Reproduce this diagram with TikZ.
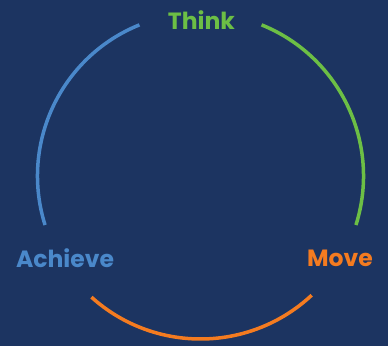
\documentclass[tikz,border=0pt]{standalone}
\usepackage{fontspec}
\setmainfont{Poppins}
\usetikzlibrary{positioning,calc}
\definecolor{navy}{HTML}{1C3461}
\definecolor{thinkgreen}{HTML}{6CBF45}
\definecolor{achieveblue}{HTML}{4A88CA}
\definecolor{moveorange}{HTML}{F47B20}
\tikzset{
  ring/.style = {line width=3.5pt, line cap=butt},
  word/.style = {font=\fontsize{23.5}{26}\selectfont\bfseries, inner sep=0pt}
}

\begin{document}
\begin{tikzpicture}[x=1pt, y=1pt]
  \fill[navy] (0,0) rectangle (388,346);
  \useasboundingbox (0,0) rectangle (388,346);
  \coordinate (c) at (200.5,170);

  % the three arcs
  \draw[ring, thinkgreen]  ($(c)+(68:163)$)   arc (68:-17.5:163);
  \draw[ring, moveorange]  ($(c)+(-47:163)$)  arc (-47:-132:163);
  \draw[ring, achieveblue] ($(c)+(197.5:163)$) arc (197.5:112:163);

  % labels
  \node[word, text=thinkgreen]  (think)   at (201.5,326) {Think};
  \node[word, text=achieveblue] (achieve) at (65,88)   {Achieve};
  \node[word, text=moveorange]  (move)    at (340,88)  {Move};
\end{tikzpicture}
\end{document}
